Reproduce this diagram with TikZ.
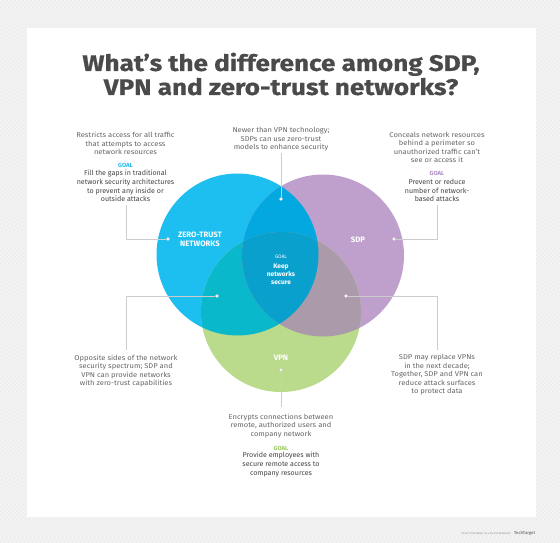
\documentclass[tikz,border=0pt]{standalone}
\usepackage{fontspec}
\setmainfont{Fira Sans}
\setsansfont{Fira Sans}
\newfontfamily\titlefont{Fira Sans}[FakeStretch=1.16, FakeBold=0.6]
\newfontfamily\descfont{Fira Sans}[FakeStretch=1.08]
\definecolor{bg}{HTML}{F3F3F3}
\definecolor{hatch}{HTML}{E8E8E8}
\definecolor{ztc}{HTML}{1DBFF0}
\definecolor{sdpc}{HTML}{BFA0CC}
\definecolor{vpnc}{HTML}{BADA8C}
\definecolor{zsc}{HTML}{03A8E0}
\definecolor{zvc}{HTML}{0AB8CC}
\definecolor{svc}{HTML}{AA9AAA}
\definecolor{zsvc}{HTML}{0AA0CE}
\definecolor{titlec}{HTML}{4A4A4A}
\definecolor{descc}{HTML}{666666}
\definecolor{goalc}{HTML}{444444}
\definecolor{goalblue}{HTML}{1DBFF0}
\definecolor{goalpurple}{HTML}{B08CC2}
\definecolor{goalgreen}{HTML}{9ACB5E}
\definecolor{connc}{HTML}{CCCCCC}
\tikzset{
  desc/.style={align=center, inner sep=0pt, text=descc, font=\descfont\fontsize{7}{8.4}\selectfont},
  goaltext/.style={align=center, inner sep=0pt, text=goalc, font=\fontsize{7.1}{8.6}\selectfont},
  goaltag/.style={inner sep=0pt, font=\bfseries\fontsize{6}{7}\selectfont},
  circlabel/.style={align=center, inner sep=0pt, text=white, font=\bfseries\fontsize{7.8}{9}\selectfont},
  conn/.style={draw=connc, line width=0.6pt},
  dotmark/.style={circle, fill=white, draw=connc, line width=0.4pt, inner sep=0pt, minimum size=3.4pt}
}
\begin{document}
\begin{tikzpicture}[x=1pt, y=-1pt]
\useasboundingbox (0,0) rectangle (560,543);
% background
\fill[bg] (0,0) rectangle (560,543);
\begin{scope}
\clip (0,0) rectangle (560,543);
\foreach \k in {0,4,...,1120} {
  \draw[hatch, line width=0.4pt] (\k-560,543) -- (\k,0);
}
\end{scope}
\fill[white] (27,28) rectangle (536,517);
% title
\node[align=center, inner sep=0pt, text=titlec, font=\titlefont\bfseries\fontsize{22.5}{24}\selectfont] (title) at (281,74) {What’s the difference among SDP,\\VPN and zero-trust networks?};
% circles
\coordinate (cZ) at (237.5,254.5);
\coordinate (cS) at (323,255.5);
\coordinate (cV) at (281,312);
\fill[ztc] (cZ) circle (81pt);
\fill[sdpc] (cS) circle (81pt);
\fill[vpnc] (cV) circle (80pt);
\begin{scope}\clip (cZ) circle (81pt); \fill[zsc] (cS) circle (81pt);\end{scope}
\begin{scope}\clip (cZ) circle (81pt); \fill[zvc] (cV) circle (80pt);\end{scope}
\begin{scope}\clip (cS) circle (81pt); \fill[svc] (cV) circle (80pt);\end{scope}
\begin{scope}\clip (cZ) circle (81pt); \clip (cS) circle (81pt); \fill[zsvc] (cV) circle (80pt);\end{scope}
% circle labels
\node[circlabel] (lz) at (200,239.5) {ZERO-TRUST\\NETWORKS};
\node[circlabel] (ls) at (358,240) {SDP};
\node[circlabel] (lv) at (281,357.5) {VPN};
\node[inner sep=0pt, text=white, font=\fontsize{5}{6}\selectfont] (cg) at (281,257) {GOAL};
\node[align=center, inner sep=0pt, text=white, font=\bfseries\fontsize{6.6}{8.2}\selectfont] (ck) at (281,274.5) {Keep\\networks\\secure};
% connector points
\node[dotmark] (dz) at (168,239) {};
\node[dotmark] (ds) at (394,239) {};
\node[dotmark] (dt) at (281,199) {};
\node[dotmark] (dl) at (217,296) {};
\node[dotmark] (dr) at (346,296) {};
\node[dotmark] (dv) at (281,370) {};
\coordinate (kz) at (126,239); \coordinate (ez) at (126,205);
\coordinate (ks) at (437,239); \coordinate (es) at (437,205);
\coordinate (kl) at (126,296); \coordinate (el) at (126,350);
\coordinate (kr) at (437,296); \coordinate (er) at (437,350);
\coordinate (et) at (281,153);
\coordinate (ev) at (281,407);
\draw[conn] (dz.west) -- (kz) -- (ez);
\draw[conn] (ds.east) -- (ks) -- (es);
\draw[conn] (dl.west) -- (kl) -- (el);
\draw[conn] (dr.east) -- (kr) -- (er);
\draw[conn] (dt.north) -- (et);
\draw[conn] (dv.south) -- (ev);
% text blocks
\node[desc] (t1) at (125.5,143.5) {Restricts access for all traffic\\that attempts to access\\network resources};
\node[goaltag, text=goalblue] (g1) at (125.5,165) {GOAL};
\node[goaltext] (h1) at (125.5,186) {Fill the gaps in traditional\\network security architectures\\to prevent any inside or\\outside attacks};
\node[desc] (t2) at (281,139.5) {Newer than VPN technology;\\SDPs can use zero-trust\\models to enhance security};
\node[desc] (t3) at (437,147.5) {Conceals network resources\\behind a perimeter so\\unauthorized traffic can’t\\see or access it};
\node[goaltag, text=goalpurple] (g3) at (437,173.3) {GOAL};
\node[goaltext] (h3) at (437,190.5) {Prevent or reduce\\number of network-\\based attacks};
\node[desc] (t4) at (126,371) {Opposite sides of the network\\security spectrum; SDP and\\VPN can provide networks\\with zero-trust capabilities};
\node[desc] (t5) at (437,374.8) {SDP may replace VPNs\\in the next decade;\\Together, SDP and VPN can\\reduce attack surfaces\\to protect data};
\node[desc] (t6) at (281,425.8) {Encrypts connections between\\remote, authorized users and\\company network};
\node[goaltag, text=goalgreen] (g6) at (281,448.3) {GOAL};
\node[goaltext] (h6) at (281,464.4) {Provide employees with\\secure remote access to\\company resources};
% footer
\node[anchor=east, inner sep=0pt, text=descc!70, font=\fontsize{2.6}{3}\selectfont] (ft) at (511,533.5) {©2020 TECHTARGET. ALL RIGHTS RESERVED};
\node[anchor=west, inner sep=0pt, text=descc!80, font=\bfseries\fontsize{4.2}{5}\selectfont] (logo) at (514,533.5) {TechTarget};
\end{tikzpicture}
\end{document}
